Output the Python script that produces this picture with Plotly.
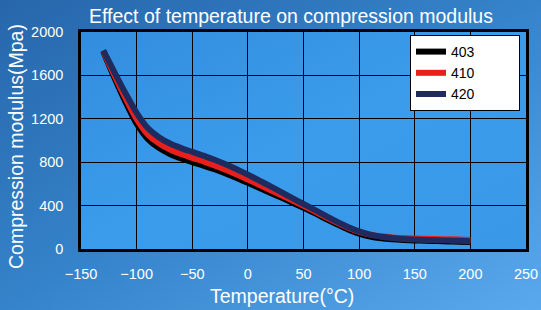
import base64
import plotly.graph_objects as go

temps = [-130, -120, -110, -100, -90, -80, -70, -60, -50, -40, -30, -20, -10, 0,
         10, 20, 30, 40, 50, 60, 70, 80, 90, 100, 110, 120, 130, 140, 150, 160,
         170, 180, 190, 200]

s403 = [1820, 1580, 1355, 1155, 1015, 932, 875, 834, 800, 769, 735, 697, 655, 610,
        565, 519, 474, 427, 380, 331, 278, 228, 181, 142, 114, 98, 89, 83, 79, 76,
        73, 70, 67, 64]
s410 = [1825, 1602, 1390, 1197, 1057, 974, 917, 875, 840, 808, 771, 731, 687, 640,
        593, 544, 496, 447, 398, 347, 294, 243, 196, 158, 132, 117, 107, 101, 97, 94,
        92, 90, 88, 84]
s420 = [1830, 1630, 1435, 1255, 1115, 1030, 972, 930, 895, 861, 823, 781, 735, 685,
        633, 579, 524, 469, 415, 361, 305, 252, 203, 162, 132, 113, 101, 93, 88, 84,
        81, 78, 75, 72]

series_names = ["403", "410", "420"]
series_values = [s403, s410, s420]
colors = ["#000000", "#e8201c", "#1f2b5e"]

xticks = [-150, -100, -50, 0, 50, 100, 150, 200, 250]
yticks = [0, 400, 800, 1200, 1600, 2000]

FONT = "Liberation Sans, Arial, sans-serif"
pad = "\u00a0" * 10

W, H = 541, 310
L, R, T, B = 81, 15, 32, 61
PW, PH = W - L - R, H - T - B


def svg_uri(svg):
    return "data:image/svg+xml;base64," + base64.b64encode(svg.encode()).decode()


paper_svg = (
    '<svg xmlns="http://www.w3.org/2000/svg" width="541" height="310">'
    '<defs><linearGradient id="g" x1="0" y1="0" x2="1" y2="1">'
    '<stop offset="0" stop-color="#2766ab"/>'
    '<stop offset="0.5" stop-color="#3583ca"/>'
    '<stop offset="1" stop-color="#5aa9ee"/>'
    '</linearGradient></defs>'
    '<rect width="541" height="310" fill="url(#g)"/></svg>'
)
plot_svg = (
    '<svg xmlns="http://www.w3.org/2000/svg" width="445" height="217">'
    '<defs><linearGradient id="h" x1="0" y1="0" x2="1" y2="1">'
    '<stop offset="0" stop-color="#338dde"/>'
    '<stop offset="0.5" stop-color="#3b9cec"/>'
    '<stop offset="1" stop-color="#3a98e8"/>'
    '</linearGradient></defs>'
    '<rect width="445" height="217" fill="url(#h)"/></svg>'
)

fig = go.Figure()
for name, vals, col in zip(series_names, series_values, colors):
    fig.add_trace(go.Scatter(x=temps, y=vals, name=name + pad, mode="lines",
                             line=dict(color=col, width=6, shape="spline",
                                       smoothing=0.8)))

fig.update_layout(
    width=W, height=H,
    margin=dict(l=L, r=R, t=T, b=B, autoexpand=False),
    paper_bgcolor="#3381c9",
    plot_bgcolor="#3a9cec",
    font=dict(family=FONT, color="white", size=14),
    title=dict(text="Effect of temperature on compression modulus",
               x=291 / W, xanchor="center", y=1 - 16 / H, yanchor="middle",
               font=dict(size=19.5, color="white", family=FONT)),
    showlegend=True,
    legend=dict(x=(410 - L) / PW, y=((H - B) - 35) / PH, xanchor="left",
                yanchor="top",
                bgcolor="white", bordercolor="black", borderwidth=1,
                font=dict(size=14, color="black", family=FONT),
                tracegroupgap=0, itemwidth=30),
    images=[
        dict(source=svg_uri(paper_svg), xref="paper", yref="paper",
             x=-L / PW, y=1 + T / PH, sizex=W / PW, sizey=H / PH,
             sizing="stretch", xanchor="left", yanchor="top", layer="below"),
        dict(source=svg_uri(plot_svg), xref="paper", yref="paper",
             x=0, y=1, sizex=1, sizey=1,
             sizing="stretch", xanchor="left", yanchor="top", layer="below"),
    ],
    annotations=[
        dict(text="Temperature(°C)", x=(282 - L) / PW, y=-(296 - (H - B)) / PH,
             xref="paper", yref="paper", xanchor="center", yanchor="middle",
             showarrow=False, font=dict(size=19.5, color="white", family=FONT)),
        dict(text="Compression modulus(Mpa)", x=-(L - 16) / PW,
             y=((H - B) - 147) / PH, xref="paper", yref="paper",
             xanchor="center", yanchor="middle",
             showarrow=False, textangle=-90,
             font=dict(size=19.5, color="white", family=FONT)),
    ],
)

fig.update_xaxes(range=[-150, 250], tickvals=xticks, showgrid=True,
                 gridcolor="black", gridwidth=1, zeroline=False,
                 showline=True, linecolor="black", linewidth=2.5, mirror=True,
                 ticks="", ticklabelstandoff=10, automargin=False,
                 tickfont=dict(size=14.5, color="white", family=FONT))
fig.update_yaxes(range=[0, 2000], tickvals=yticks, showgrid=True,
                 gridcolor="black", gridwidth=1, zeroline=False,
                 showline=True, linecolor="black", linewidth=2.5, mirror=True,
                 ticks="", ticklabelstandoff=12, automargin=False,
                 tickfont=dict(size=14.5, color="white", family=FONT))

fig.write_html("out.html", config={"displayModeBar": False},
               post_script="document.body.style.margin='0';"
                           "document.body.style.overflow='hidden';")
